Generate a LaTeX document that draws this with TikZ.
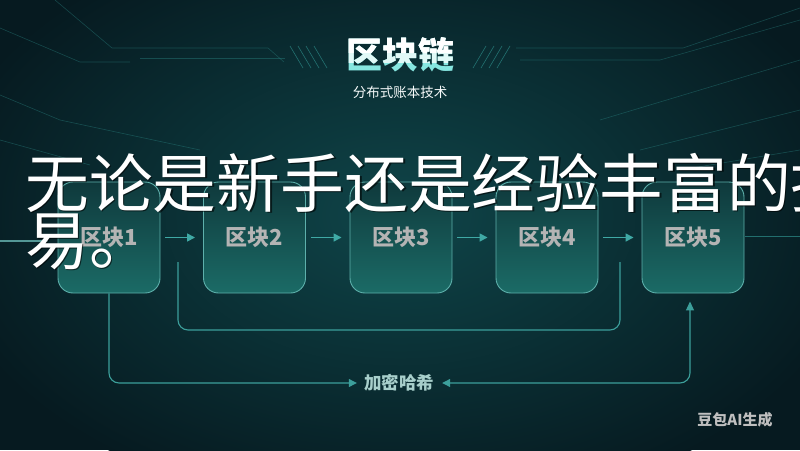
\documentclass[tikz,border=0pt]{standalone}
\usepackage{fontspec}
\setmainfont{Noto Sans CJK SC}
\usetikzlibrary{arrows.meta}
\definecolor{bgdark}{HTML}{061A20}
\definecolor{bgglow}{HTML}{0F4549}
\definecolor{boxtop}{HTML}{0F393C}
\definecolor{boxbot}{HTML}{1B6B66}
\definecolor{boxborder}{HTML}{5DB0AB}
\definecolor{arrowc}{HTML}{3FA9A5}
\definecolor{linec}{HTML}{3C9F9B}
\definecolor{lblgrey}{HTML}{B4B4B4}
\definecolor{hashc}{HTML}{A8CFCB}
\definecolor{deco}{HTML}{2E8F8C}
\definecolor{titlecyan}{HTML}{86E6E0}
\begin{document}
\begin{tikzpicture}[x=1pt,y=-1pt,
  block/.style={draw=boxborder, line width=0.9pt, rounded corners=15pt,
    top color=boxtop, bottom color=boxbot, minimum width=102pt,
    minimum height=111pt, inner sep=0pt, text=lblgrey,
    font=\fontsize{22}{22}\selectfont\bfseries},
  flow/.style={-{Triangle[length=8pt,width=8pt]}, draw=arrowc, line width=1.6pt,
    shorten <=5pt, shorten >=8pt},
  conn/.style={draw=linec, line width=1.1pt, rounded corners=10pt},
  decol/.style={draw=deco, line width=0.6pt, opacity=0.38},
  big/.style={inner sep=0pt, anchor=base west, font=\fontsize{63.8}{57}\selectfont}
]
\useasboundingbox (0,0) rectangle (800,450);
\clip (0,0) rectangle (800,450);
% background
\fill[bgdark] (0,0) rectangle (800,450);
\shade[inner color=bgglow, outer color=bgdark] (400,215) ellipse (470 and 300);
% decorative lines
\draw[decol] (55,0) -- (112,48) -- (268,48) -- (284,62);
\draw[decol] (0,28) -- (80,62) -- (130,62);
\draw[decol] (140,58) -- (285,58);
\draw[decol] (0,95) -- (60,120) -- (200,150);
\draw[decol] (0,140) -- (90,165);
\foreach \i in {0,1,2,3}{\draw[decol, opacity=0.7] (290+\i*8,46) -- (303+\i*8,68);}
\foreach \i in {0,1,2,3}{\draw[decol, opacity=0.7] (486+\i*8,46) -- (473+\i*8,68);}
\draw[decol] (516,48) -- (683,48) -- (800,8);
\draw[decol] (520,60) -- (660,60) -- (800,20);
\draw[decol] (600,120) -- (800,60);
\draw[decol] (640,150) -- (800,110);
\draw[decol] (680,170) -- (800,150);
\draw[draw=titlecyan, line width=1.4pt, opacity=0.6] (0,241) -- (48,241);
\draw[decol, opacity=0.7] (745,236) -- (800,236);
% title
\node[text=titlecyan, font=\fontsize{36}{36}\selectfont\bfseries] (title) at (400,55) {区块链};
\begin{scope}
\clip (300,0) rectangle (500,62);
\node[text=white!75!titlecyan, font=\fontsize{36}{36}\selectfont\bfseries] at (400,55) {区块链};
\end{scope}
\begin{scope}
\clip (300,0) rectangle (500,52);
\node[text=white, font=\fontsize{36}{36}\selectfont\bfseries] at (400,55) {区块链};
\end{scope}
\node[text=white!90!hashc, font=\fontsize{13.5}{14}\selectfont] (sub) at (400,92) {分布式账本技术};
% blocks
\node[block] (b1) at (109,237.5) {区块1};
\node[block] (b2) at (254.5,237.5) {区块2};
\node[block] (b3) at (401,237.5) {区块3};
\node[block] (b4) at (547,237.5) {区块4};
\node[block] (b5) at (693,237.5) {区块5};
\draw[flow] (b1) -- (b2);
\draw[flow] (b2) -- (b3);
\draw[flow] (b3) -- (b4);
\draw[flow] (b4) -- (b5);
% bracket under blocks 2-4
\coordinate (m1) at (178,262);
\coordinate (m2) at (620,262);
\draw[conn] (m1) -- ++(0,68) -| (m2);
% hash label and connectors
\node[text=hashc, inner sep=0pt, font=\fontsize{17.5}{18}\selectfont\bfseries] (hash) at (399,383) {加密哈希};
\draw[conn, -{Triangle[length=8pt,width=8pt]}, shorten >=7pt] (b1.south) |- (hash.west);
\draw[conn, {Triangle[length=8pt,width=8pt]}-{Triangle[length=9pt,width=8pt]}, shorten <=8pt, shorten >=8pt] (hash.east) -| ([xshift=-3pt]b5.south);
% watermark
\node[text=white!75!black, font=\fontsize{15}{15}\selectfont\bfseries] (wm) at (735,420) {豆包AI生成};
% overlay text
\node[big, text=black, opacity=0.6] (t1s) at (26.8,208.8) {无论是新手还是经验丰富的投资者};
\node[big, text=white] (t1) at (25,207) {无论是新手还是经验丰富的投资者};
\node[big, text=black, opacity=0.6] (t2s) at (26.8,265.8) {易。};
\node[big, text=white] (t2) at (25,264) {易。};
\end{tikzpicture}
\end{document}
